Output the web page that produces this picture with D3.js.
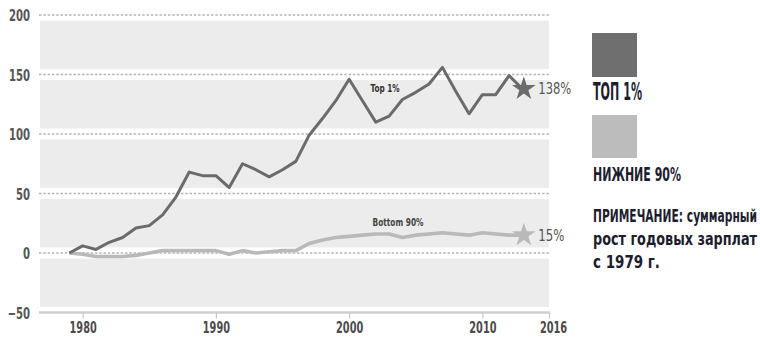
<!DOCTYPE html>
<html><head><meta charset="utf-8">
<script src="https://cdn.jsdelivr.net/npm/d3@7/dist/d3.min.js"></script>
<style>
html,body{margin:0;padding:0;background:#fff;}
svg{display:block;}
</style></head>
<body>
<script>
const years = [1979,1980,1981,1982,1983,1984,1985,1986,1987,1988,1989,1990,1991,1992,1993,1994,1995,1996,1997,1998,1999,2000,2001,2002,2003,2004,2005,2006,2007,2008,2009,2010,2011,2012,2013];
const top1 = [0,6,3,9,13,21,23,32,47,68,65,65,55,75,70,64,70,77,99,113,128,146,128,110,115,129,135,142,156,136,117,133,133,149,138];
const bottom90 = [0,-1,-3,-3,-3,-2,0,2,2,2,2,2,-1,2,0,1,2,2,8,11,13,14,15,16,16,13,15,16,17,16,15,17,16,15,15];
const yTicks = [200,150,100,50,0,-50];
const xTickValues = [1980,1990,2000,2010,2015];
const xTickLabels = ["1980","1990","2000","2010","2016"];
const endLabels = ["138%","15%"];
const seriesNames = ["Top 1%","Bottom 90%"];
const legendNames = ["ТОП 1%","НИЖНИЕ 90%"];
const noteLines = ["ПРИМЕЧАНИЕ: суммарный","рост годовых зарплат","с 1979 г."];

const W=760,H=337;
const svg=d3.select("body").append("svg").attr("width",W).attr("height",H);
const x=d3.scaleLinear().domain([1976.8,2015]).range([40,549]);
const y=d3.scaleLinear().domain([-50,200]).range([312.5,15]);
const FONT='"DejaVu Sans Condensed","DejaVu Sans",sans-serif';
const dark="#6b6b6b", light="#b9b9b9";

function squeeze(sel,f){sel.each(function(){const w=this.getComputedTextLength();d3.select(this).attr("textLength",w*f).attr("lengthAdjust","spacingAndGlyphs");});}
function fitW(sel,w){sel.attr("textLength",w).attr("lengthAdjust","spacingAndGlyphs");}
function tallText(px,py,str,fs,sy,w){
  const gg=svg.append("g").attr("transform",`translate(${px},${py}) scale(1,${sy})`);
  gg.append("text").attr("x",0).attr("y",0).text(str).attr("font-family",FONT).attr("font-weight","bold").attr("font-size",fs).attr("fill","#1d1d2e").call(fitW,w);
}

// background
svg.append("rect").attr("x",40).attr("width",509).attr("y",y(200)).attr("height",y(-50)-y(200)).attr("fill","#ececec");
const g=svg.append("g");
yTicks.filter(d=>d>-50).forEach(d=>{
  g.append("rect").attr("x",39).attr("width",511).attr("y",y(d)-5.5).attr("height",11).attr("fill","#fff");
  g.append("line").attr("x1",39).attr("x2",550).attr("y1",y(d)).attr("y2",y(d)).attr("stroke","#b5b5b5").attr("stroke-width",1.3).attr("stroke-dasharray","2.5,1.8");
});
g.append("rect").attr("x",39).attr("width",511).attr("y",y(-50)-5.5).attr("height",5).attr("fill","#fff");
// x axis
const xAxis=d3.axisBottom(x).tickValues(xTickValues).tickFormat((d,i)=>xTickLabels[i]).tickSize(6).tickSizeOuter(0);
const ax=svg.append("g").attr("transform",`translate(0,${y(-50)})`).call(xAxis);
ax.select(".domain").attr("stroke","#cfcfcf").attr("stroke-width",2.5).attr("d","M39,0H550");
ax.selectAll(".tick line").attr("stroke","#c8c8c8").attr("stroke-width",1.2);
ax.selectAll(".tick text").attr("font-family",FONT).attr("font-weight","bold").attr("font-size",15.5).attr("fill","#4a4a4a").attr("y",9).attr("dy","0.71em").call(squeeze,0.7);
ax.selectAll(".tick text").filter((d,i)=>i===4).attr("dx",4);
// y labels
const yAxis=d3.axisLeft(y).tickValues(yTicks).tickSize(0);
const ay=svg.append("g").attr("transform","translate(30,0)").call(yAxis);
ay.select(".domain").remove();
ay.selectAll(".tick text").attr("font-family",FONT).attr("font-weight","bold").attr("font-size",16).attr("fill","#555").attr("x",0).attr("dy","0.36em").call(squeeze,0.7);

// lines
const line=d3.line().x((d,i)=>x(years[i])).y(d=>y(d)).curve(d3.curveLinear);
svg.append("path").datum(bottom90).attr("d",line).attr("fill","none").attr("stroke",light).attr("stroke-width",3.6).attr("stroke-linejoin","round");
svg.append("path").datum(top1).attr("d",line).attr("fill","none").attr("stroke",dark).attr("stroke-width",3).attr("stroke-linejoin","round");

// stars
const star=d3.symbol().type(d3.symbolStar).size(175);
[top1,bottom90].forEach((s,k)=>{
  const n=s.length-1;
  svg.append("path").attr("d",star).attr("transform",`translate(${x(years[n])+1.5},${y(s[n])})`).attr("fill",k===0?dark:light);
  svg.append("text").attr("x",x(years[n])+16).attr("y",y(s[n])+5.5).text(endLabels[k])
    .attr("font-family",FONT).attr("font-size",15.5).attr("fill","#555").call(fitW,k===0?33:26);
});
// series labels
svg.append("text").attr("x",385).attr("y",92).attr("text-anchor","middle").text(seriesNames[0]).attr("font-family",FONT).attr("font-weight","bold").attr("font-size",11).attr("fill","#333").call(fitW,29);
svg.append("text").attr("x",398).attr("y",226).attr("text-anchor","middle").text(seriesNames[1]).attr("font-family",FONT).attr("font-weight","bold").attr("font-size",11).attr("fill","#444").call(fitW,51);

// legend
svg.append("rect").attr("x",592).attr("y",33).attr("width",45).attr("height",44).attr("fill","#6f6f6f");
tallText(593,100,legendNames[0],20,1.25,49);
svg.append("rect").attr("x",592).attr("y",115).attr("width",45).attr("height",43).attr("fill","#bcbcbc");
tallText(593,181,legendNames[1],15,1.3,88);
const noteY=[222,245,268], noteW=[164,164,67];
noteLines.forEach((t,i)=>tallText(593,noteY[i],t,12,1.45,noteW[i]));
</script>
</body></html>
